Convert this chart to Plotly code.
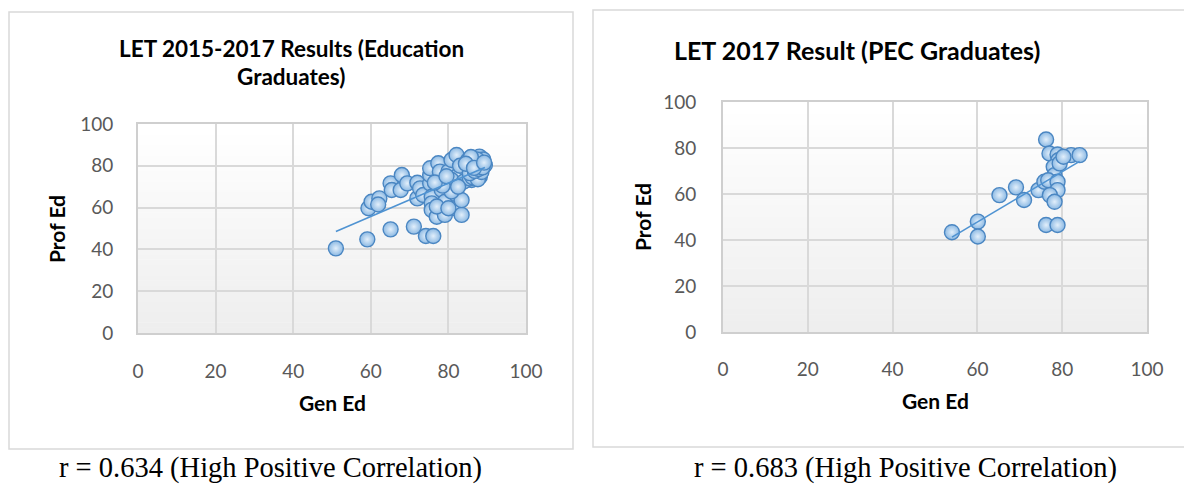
import numpy as np
import plotly.graph_objects as go

# ---------------- data ----------------
gen_ed_2015_2017 = [51.0, 59.1, 65.1, 71.1, 74.2, 76.1, 59.4, 60.2, 62.2, 61.9,
                    65.1, 65.4, 67.7, 68.0, 69.4, 72.0, 72.0, 72.7, 73.5, 75.3,
                    75.3, 75.3, 75.7, 75.7, 75.7, 77.0, 78.3, 78.3, 77.4, 77.8,
                    79.1, 79.1, 80.0, 80.8, 82.1, 82.1, 81.7, 83.4, 83.4, 84.7,
                    85.6, 84.7, 86.4, 88.0, 89.4, 88.1, 86.0, 82.6, 80.8, 80.8,
                    77.0, 80.0, 78.5, 76.5, 83.0, 87.0, 86.5, 84.0, 85.5, 87.0,
                    82.5, 79.5, 86.5, 87.0, 87.5, 88.0, 86.2, 87.6, 88.5, 85.5,
                    86.8, 87.8, 88.6, 87.2, 85.0, 89.0, 88.2, 86.0, 87.4, 85.8,
                    88.8, 84.5, 86.6, 89.2]
prof_ed_2015_2017 = [40.5, 44.8, 49.6, 50.9, 46.4, 46.4, 59.7, 62.8, 64.4, 61.5,
                     71.6, 68.4, 68.4, 75.6, 71.6, 71.9, 64.4, 69.2, 66.0, 71.6,
                     75.6, 78.8, 65.2, 62.0, 58.9, 55.6, 68.4, 79.6, 81.2, 77.2,
                     62.8, 56.5, 77.2, 82.8, 85.2, 66.0, 59.7, 56.5, 63.6, 79.6,
                     83.6, 74.8, 76.4, 84.4, 80.4, 74.8, 73.2, 75.6, 73.2, 67.7,
                     60.5, 59.7, 70.5, 72.0, 80.0, 78.0, 82.0, 72.5, 74.0, 75.5,
                     70.0, 75.0, 75.0, 74.0, 76.0, 75.5, 74.5, 73.6, 77.0, 76.5,
                     77.5, 78.5, 82.0, 81.5, 82.5, 83.0, 80.5, 80.8, 83.0, 84.2,
                     79.2, 81.0, 79.0, 81.5]

gen_ed_2017_pec = [54.0, 60.1, 60.1, 65.2, 69.1, 71.0, 74.4, 75.8, 76.2, 76.2,
                   78.9, 77.0, 78.9, 79.1, 82.1, 84.1, 78.0, 78.2, 76.7, 78.9,
                   78.9, 77.1, 78.2, 79.4, 80.3]
prof_ed_2017_pec = [43.4, 48.0, 41.5, 59.5, 62.9, 57.4, 61.7, 65.3, 83.7, 46.5,
                    46.5, 77.6, 77.2, 74.7, 76.9, 76.9, 71.8, 68.2, 66.0, 65.3,
                    61.7, 59.5, 56.6, 73.3, 76.2]

tick_values = [0, 20, 40, 60, 80, 100]
tick_labels = ["0", "20", "40", "60", "80", "100"]

title_left_lines = ["LET 2015-2017 Results (Education", "Graduates)"]
title_right = "LET 2017 Result (PEC Graduates)"
x_title = "Gen Ed"
y_title = "Prof Ed"
caption_left = "r = 0.634 (High Positive Correlation)"
caption_right = "r = 0.683 (High Positive Correlation)"

# ---------------- layout geometry (pixels) ----------------
W, H = 1184, 484


def px(x):
    return x / W


def py(y):
    return 1 - y / H


fig = go.Figure()

marker_style = dict(
    size=15,
    color="#8cb9e3",
    gradient=dict(type="radial", color="#e2effb"),
    line=dict(color="#4a86c2", width=1.4),
)

datasets = [
    (gen_ed_2015_2017, prof_ed_2015_2017, "x", "y"),
    (gen_ed_2017_pec, prof_ed_2017_pec, "x2", "y2"),
]

for gx, gy, xa, ya in datasets:
    xs = np.array(gx)
    ys = np.array(gy)
    slope, intercept = np.polyfit(xs, ys, 1)
    tx = np.array([xs.min(), xs.max()])
    fig.add_trace(go.Scatter(x=xs, y=ys, mode="markers", marker=marker_style,
                             xaxis=xa, yaxis=ya, showlegend=False, hoverinfo="skip"))
    fig.add_trace(go.Scatter(x=tx, y=slope * tx + intercept, mode="lines",
                             line=dict(color="#4f93d2", width=1.6),
                             xaxis=xa, yaxis=ya, showlegend=False, hoverinfo="skip"))

axis_common = dict(
    range=[0, 100],
    tickvals=tick_values,
    ticktext=tick_labels,
    showgrid=True,
    gridcolor="#d9d9d9",
    gridwidth=2,
    zeroline=False,
    showline=True,
    linecolor="#cfcfcf",
    linewidth=2,
    mirror=True,
    ticks="outside",
    tickcolor="rgba(0,0,0,0)",
    tickfont=dict(family="Lato", size=19, color="#595959"),
    fixedrange=True,
    automargin=False,
)

fig.update_layout(
    width=W, height=H,
    template="none",
    margin=dict(l=0, r=0, t=0, b=0, pad=0, autoexpand=False),
    paper_bgcolor="white",
    plot_bgcolor="rgba(0,0,0,0)",
    xaxis=dict(axis_common, domain=[px(138), px(526)], anchor="y", ticklen=20),
    yaxis=dict(axis_common, domain=[py(333), py(124)], anchor="x", ticklen=19),
    xaxis2=dict(axis_common, domain=[px(723), px(1147)], anchor="y2", ticklen=19),
    yaxis2=dict(axis_common, domain=[py(332), py(102)], anchor="x2", ticklen=21),
)

shapes = []
# outer chart boxes
shapes.append(dict(type="rect", xref="paper", yref="paper",
                   x0=px(9), x1=px(573), y0=py(449), y1=py(12),
                   line=dict(color="#d9d9d9", width=1.5), fillcolor="rgba(0,0,0,0)",
                   layer="below"))
shapes.append(dict(type="rect", xref="paper", yref="paper",
                   x0=px(593), x1=px(1192), y0=py(447), y1=py(10),
                   line=dict(color="#d9d9d9", width=1.5), fillcolor="rgba(0,0,0,0)",
                   layer="below"))
# plot-area gradient (white at top to light grey at bottom)
N = 40
for xr, yr in [("x domain", "y domain"), ("x2 domain", "y2 domain")]:
    for i in range(N):
        t = i / (N - 1)
        v = int(round(0xee + (0xff - 0xee) * t))
        shapes.append(dict(type="rect", xref=xr, yref=yr,
                           x0=0, x1=1, y0=i / N, y1=(i + 1) / N + 0.002,
                           fillcolor=f"rgb({v},{v},{v})", line=dict(width=0),
                           layer="below"))
fig.update_layout(shapes=shapes)

ann = []
title_font_l = dict(family="Lato", size=22.5, color="black")
ann.append(dict(text=f"<b>{title_left_lines[0]}</b>", x=px(291), y=py(48),
                font=title_font_l))
ann.append(dict(text=f"<b>{title_left_lines[1]}</b>", x=px(291), y=py(77),
                font=title_font_l))
ann.append(dict(text=f"<b>{title_right}</b>", x=px(857), y=py(50),
                font=dict(family="Lato", size=25, color="black")))
axis_font = dict(family="Lato", size=21, color="black")
ann.append(dict(text=f"<b>{x_title}</b>", x=px(332), y=py(402), font=axis_font))
ann.append(dict(text=f"<b>{x_title}</b>", x=px(935), y=py(400), font=axis_font))
ann.append(dict(text=f"<b>{y_title}</b>", x=px(57), y=py(229), textangle=-90, font=axis_font))
ann.append(dict(text=f"<b>{y_title}</b>", x=px(642), y=py(217), textangle=-90, font=axis_font))
cap_font = dict(family="Liberation Serif", size=28.5, color="black")
ann.append(dict(text=caption_left, x=px(270), y=py(468), font=cap_font))
ann.append(dict(text=caption_right, x=px(905), y=py(468), font=cap_font))

for a in ann:
    a.update(xref="paper", yref="paper", showarrow=False,
             xanchor="center", yanchor="middle")
fig.update_layout(annotations=ann)

fig.write_html(
    "out.html",
    config={"displayModeBar": False, "staticPlot": True},
    post_script="document.body.style.margin='0';document.body.style.overflow='hidden';",
)
